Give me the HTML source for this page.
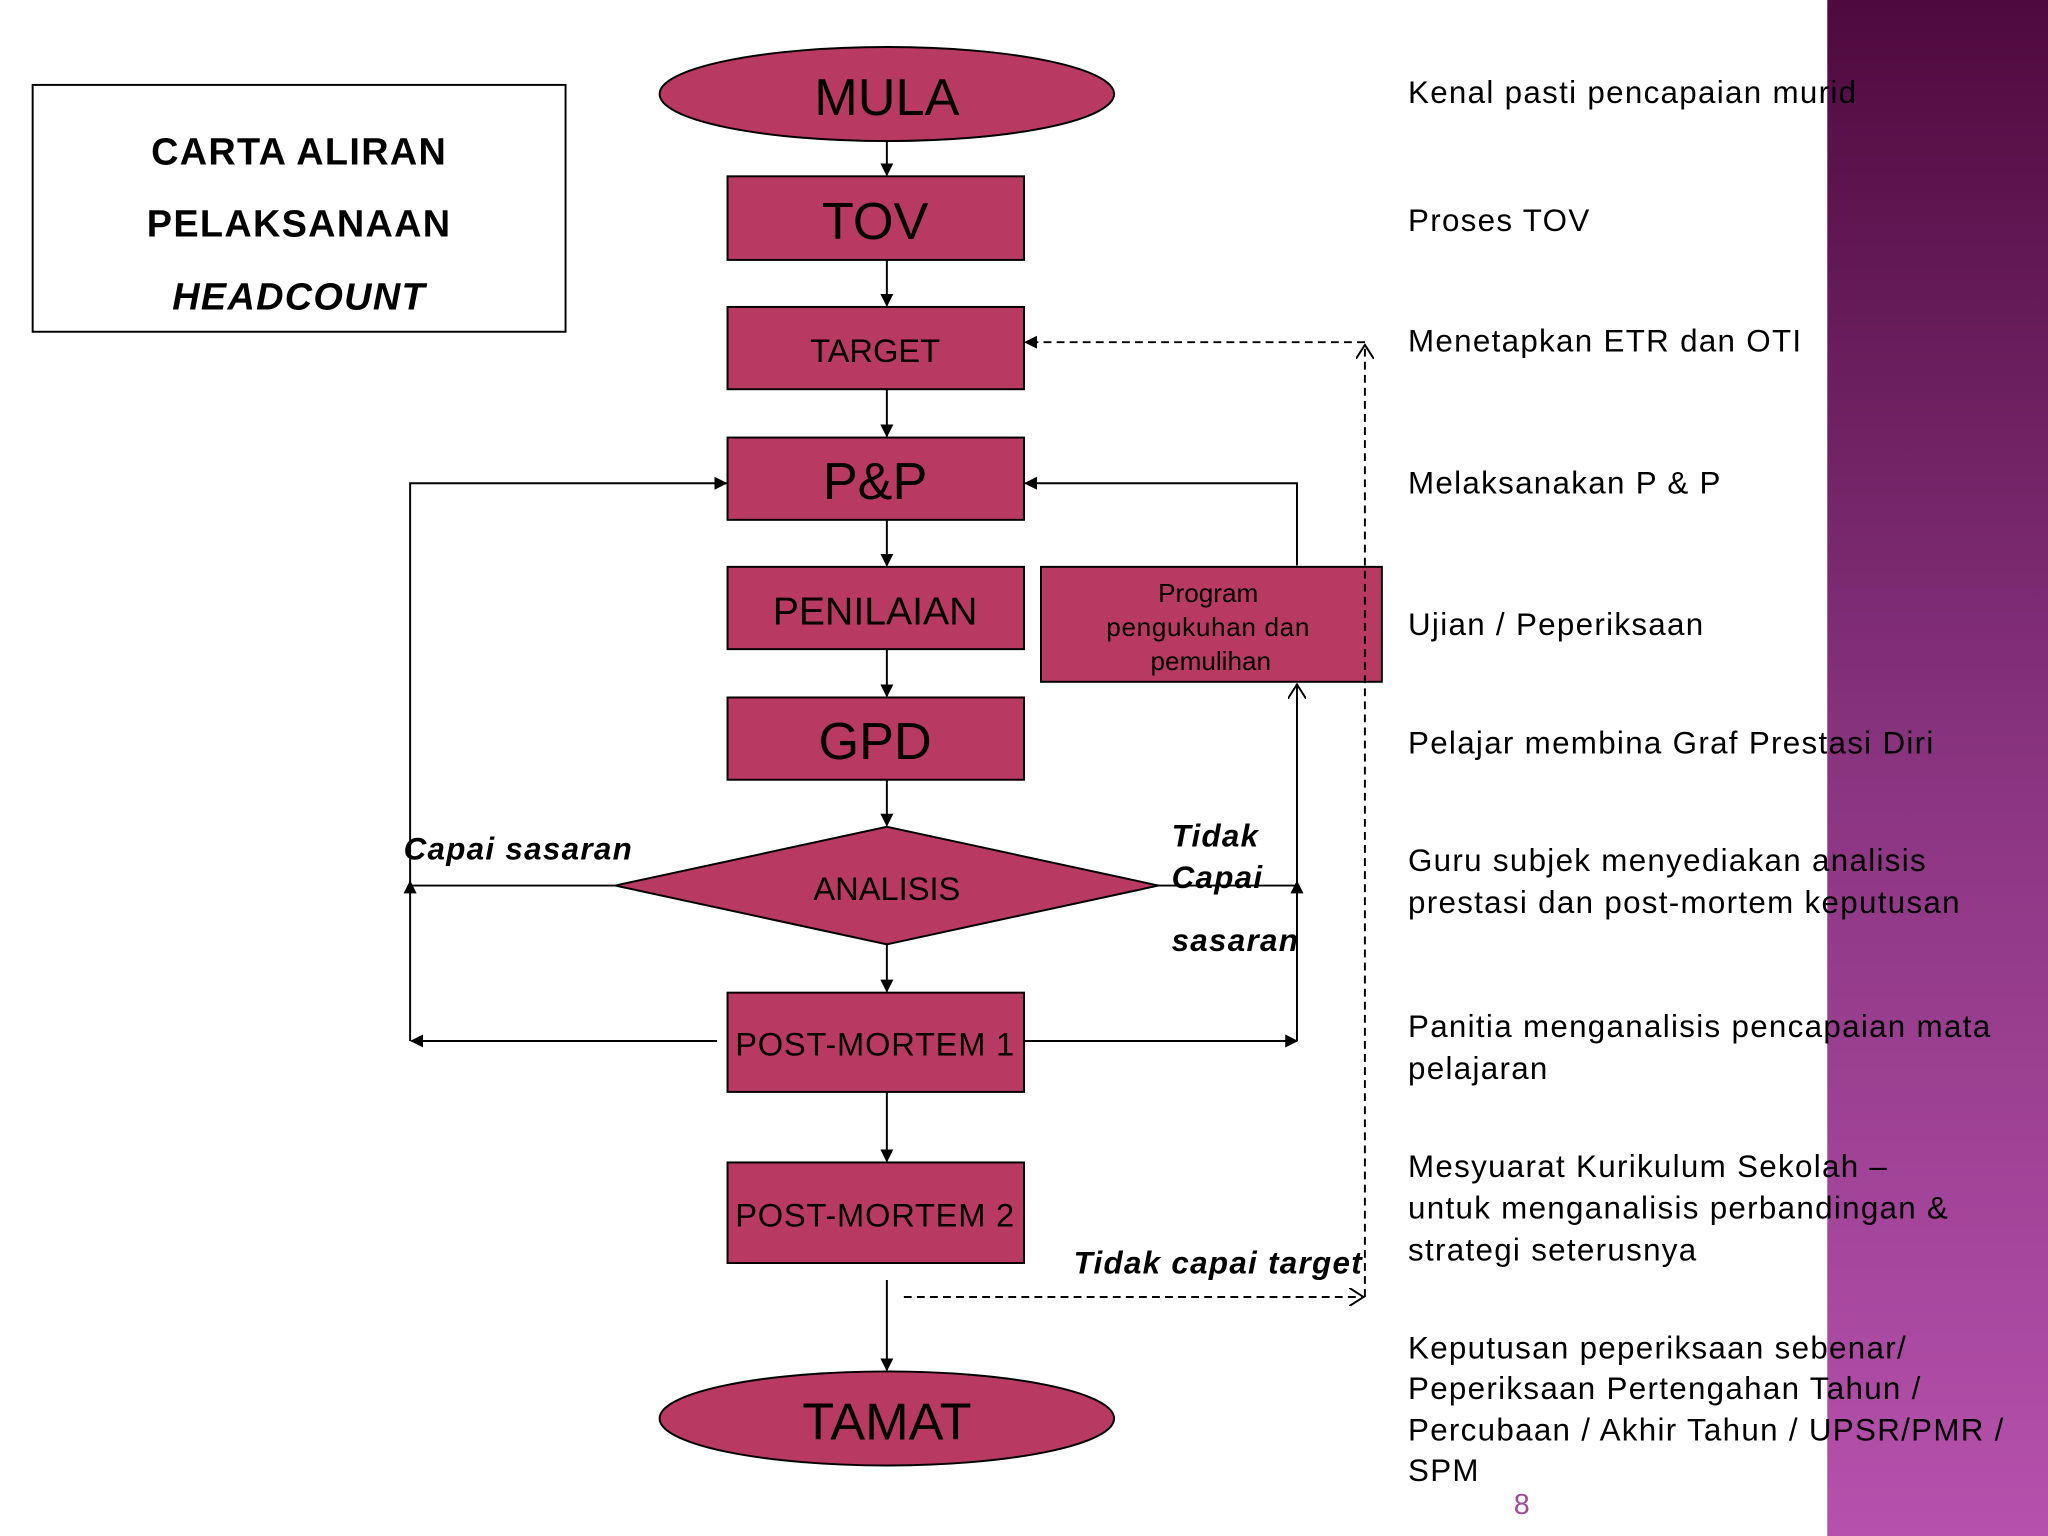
<!DOCTYPE html>
<html><head><meta charset="utf-8"><style>
html,body{margin:0;padding:0;background:#fff;}
svg{display:block;}
text{font-family:"Liberation Sans",Arial,sans-serif;}
</style></head><body>
<svg width="2048" height="1536" viewBox="0 0 1568 1176" xmlns="http://www.w3.org/2000/svg">
<defs>
<linearGradient id="band" x1="0" y1="0" x2="0" y2="1">
<stop offset="0" stop-color="#4e0a3e"/><stop offset="0.5" stop-color="#8a3480"/><stop offset="1" stop-color="#b651ad"/>
</linearGradient>
<marker id="ar" markerWidth="10" markerHeight="10" refX="9" refY="5" orient="auto" markerUnits="userSpaceOnUse"><path d="M0,0 L10,5 L0,10 z" fill="#000"/></marker>
<marker id="oa" markerWidth="12" markerHeight="14" refX="11" refY="7" orient="auto" markerUnits="userSpaceOnUse"><path d="M0,0 L11,7 L0,14" fill="none" stroke="#000" stroke-width="1.5"/></marker>
</defs>
<rect x="0" y="0" width="1568" height="1176" fill="#fff"/>
<rect x="1399" y="0" width="169" height="1176" fill="url(#band)"/>

<rect x="25" y="65" width="408" height="189" fill="#fff" stroke="#000" stroke-width="1.5"/>
<g font-weight="bold" font-size="29" text-anchor="middle" letter-spacing="1">
<text x="229" y="126">CARTA ALIRAN</text>
<text x="229" y="181">PELAKSANAAN</text>
<text x="229" y="237" font-style="italic">HEADCOUNT</text>
</g>

<g fill="#b83a62" stroke="#000" stroke-width="1.5">
<ellipse cx="679" cy="72" rx="174" ry="36"/>
<rect x="557" y="135" width="227" height="64"/>
<rect x="557" y="235" width="227" height="63"/>
<rect x="557" y="335" width="227" height="63"/>
<rect x="557" y="434" width="227" height="63"/>
<rect x="797" y="434" width="261" height="88"/>
<rect x="557" y="534" width="227" height="63"/>
<polygon points="679,633 887,678 679,723 471,678"/>
<rect x="557" y="760" width="227" height="76"/>
<rect x="557" y="890" width="227" height="77"/>
<ellipse cx="679" cy="1086" rx="174" ry="36"/>
</g>
<g text-anchor="middle" fill="#000">
<text x="679" y="88" font-size="40">MULA</text>
<text x="670" y="183" font-size="40">TOV</text>
<text x="670" y="277" font-size="25">TARGET</text>
<text x="670" y="382" font-size="40">P&amp;P</text>
<text x="670" y="478" font-size="30">PENILAIAN</text>
<text x="925" y="461" font-size="20">Program</text>
<text x="925" y="487" font-size="20" letter-spacing="0.5">pengukuhan dan</text>
<text x="927" y="513" font-size="20">pemulihan</text>
<text x="670" y="581" font-size="40">GPD</text>
<text x="679" y="689" font-size="25">ANALISIS</text>
<text x="670" y="808" font-size="25" letter-spacing="0.6">POST-MORTEM 1</text>
<text x="670" y="939" font-size="25" letter-spacing="0.6">POST-MORTEM 2</text>
<text x="679" y="1102" font-size="40">TAMAT</text>
</g>

<g stroke="#000" stroke-width="1.5" fill="none">
<line x1="679" y1="108" x2="679" y2="134" marker-end="url(#ar)"/>
<line x1="679" y1="199" x2="679" y2="234" marker-end="url(#ar)"/>
<line x1="679" y1="298" x2="679" y2="334" marker-end="url(#ar)"/>
<line x1="679" y1="398" x2="679" y2="433" marker-end="url(#ar)"/>
<line x1="679" y1="497" x2="679" y2="533" marker-end="url(#ar)"/>
<line x1="679" y1="597" x2="679" y2="632" marker-end="url(#ar)"/>
<line x1="679" y1="723" x2="679" y2="759" marker-end="url(#ar)"/>
<line x1="679" y1="836" x2="679" y2="889" marker-end="url(#ar)"/>
<line x1="679" y1="980" x2="679" y2="1049" marker-end="url(#ar)"/>
<polyline points="471,678 314,678 314,370 556,370" marker-end="url(#ar)"/>
<line x1="549" y1="797" x2="315" y2="797" marker-end="url(#ar)"/>
<line x1="314" y1="797" x2="314" y2="675" marker-end="url(#ar)"/>
<line x1="784" y1="797" x2="993" y2="797" marker-end="url(#ar)"/>
<line x1="993" y1="797" x2="993" y2="675" marker-end="url(#ar)"/>
<line x1="887" y1="678" x2="993" y2="678"/>
<line x1="993" y1="678" x2="993" y2="524" marker-end="url(#oa)"/>
<polyline points="993,433 993,370 785,370" marker-end="url(#ar)"/>
<g stroke-dasharray="6,4">
<line x1="692" y1="993" x2="1044" y2="993" marker-end="url(#oa)"/>
<line x1="1045" y1="993" x2="1045" y2="264" marker-end="url(#oa)"/>
<line x1="1045" y1="262" x2="785" y2="262" marker-end="url(#ar)"/>
</g>
</g>

<g font-weight="bold" font-style="italic" font-size="24" letter-spacing="1">
<text x="309" y="658">Capai sasaran</text>
<text x="897" y="648">Tidak</text>
<text x="897" y="680">Capai</text>
<text x="897" y="728">sasaran</text>
<text x="822" y="975">Tidak capai target</text>
</g>

<g font-size="24" fill="#000" letter-spacing="1">
<text x="1078" y="79">Kenal pasti pencapaian murid</text>
<text x="1078" y="177">Proses TOV</text>
<text x="1078" y="269">Menetapkan ETR dan OTI</text>
<text x="1078" y="378">Melaksanakan P &amp; P</text>
<text x="1078" y="486">Ujian  / Peperiksaan</text>
<text x="1078" y="577">Pelajar membina Graf Prestasi Diri</text>
<text x="1078" y="667">Guru subjek menyediakan analisis</text>
<text x="1078" y="699">prestasi dan post-mortem keputusan</text>
<text x="1078" y="794">Panitia menganalisis pencapaian mata</text>
<text x="1078" y="826">pelajaran</text>
<text x="1078" y="901">Mesyuarat Kurikulum Sekolah –</text>
<text x="1078" y="933">untuk menganalisis perbandingan &amp;</text>
<text x="1078" y="965">strategi seterusnya</text>
<text x="1078" y="1040">Keputusan peperiksaan sebenar/</text>
<text x="1078" y="1071">Peperiksaan Pertengahan Tahun /</text>
<text x="1078" y="1103">Percubaan / Akhir Tahun / UPSR/PMR /</text>
<text x="1078" y="1134">SPM</text>
</g>
<text x="1159" y="1159" font-size="22" fill="#a04a9a">8</text>
</svg>
</body></html>
